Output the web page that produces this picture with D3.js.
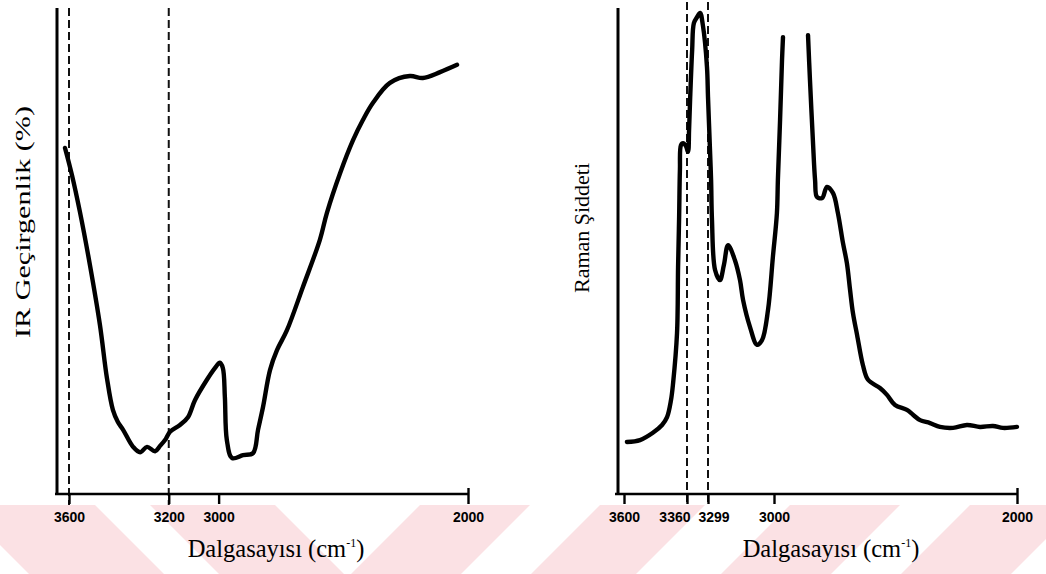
<!DOCTYPE html>
<html>
<head>
<meta charset="utf-8">
<script src="https://cdn.jsdelivr.net/npm/d3@7"></script>
<style>
  html, body { margin: 0; padding: 0; background: #ffffff; }
  svg { display: block; }
</style>
</head>
<body>
<svg id="chart" width="1046" height="574"></svg>
<script>
// IR transmittance spectrum (wavenumber, cm-1 / transmittance, arbitrary %)
const irWavenumber = [3616, 3588, 3556, 3516, 3476, 3448, 3424, 3404, 3383, 3343,
  3315, 3287, 3255, 3235, 3215, 3195, 3155, 3123, 3095, 3047,
  3015, 2995, 2983, 2975, 2967, 2946, 2902, 2862, 2842, 2822,
  2794, 2766, 2726, 2662, 2594, 2566, 2513, 2461, 2421, 2381,
  2313, 2233, 2181, 2112, 2044];
const irTransmittance = [71.2, 65.6, 58.0, 47.1, 34.8, 23.9, 17.3, 14.8, 13.2, 9.7,
  8.6, 9.7, 8.8, 9.9, 11.1, 12.8, 14.2, 15.8, 19.3, 23.5,
  25.9, 27.0, 25.9, 20.0, 11.1, 7.4, 8.0, 8.4, 13.2, 17.9,
  25.5, 29.6, 33.7, 42.6, 52.3, 57.8, 66.0, 72.8, 77.0, 80.5,
  84.6, 86.0, 85.6, 86.8, 88.3];

// Raman spectrum; null marks the off-scale part of the C-H band
const ramanWavenumber = [3589, 3539, 3490, 3455, 3436, 3421, 3413, 3398, 3394, 3390,
  3387, 3383, 3375, 3364, 3357, 3354, 3351, 3345, 3340, 3331,
  3322, 3314, 3302, 3299, 3290, 3285, 3281, 3267, 3245, 3227,
  3208, 3177, 3154, 3140, 3109, 3077, 3054, 3027, 3005, 2988,
  2984, 2975, 2967, 2963, 2914, 2860, 2852, 2840, 2831, 2823,
  2802, 2782, 2757, 2737, 2716, 2700, 2687, 2675, 2658, 2634,
  2613, 2564, 2535, 2502, 2453, 2428, 2399, 2358, 2317, 2263,
  2206, 2152, 2099, 2058, 2000];
const ramanIntensity = [10.7, 11.1, 12.6, 14.2, 15.8, 19.3, 22.8, 33.1, 46.7, 57.0,
  66.7, 71.8, 72.2, 71.6, 70.4, 74.9, 81.1, 91.4, 96.9, 98.1,
  99.0, 96.5, 87.9, 81.7, 70.8, 64.6, 56.4, 46.1, 44.0, 47.1,
  51.2, 48.1, 44.0, 39.9, 34.4, 30.7, 31.7, 37.9, 48.8, 57.8,
  64.6, 77.0, 89.3, 94.0, null, 94.4, 85.2, 72.8, 64.6, 61.1,
  60.9, 63.2, 61.9, 57.8, 51.6, 47.5, 42.0, 37.2, 32.7, 26.5,
  23.5, 21.8, 20.4, 18.3, 17.3, 16.3, 15.2, 14.6, 13.8, 13.6,
  14.2, 13.8, 14.0, 13.6, 13.8];

const irTicks = [3600, 3200, 3000, 2000];
const ramanTicks = [3600, 3360, 3299, 3000, 2000];
const irMarkers = [3600, 3200];
const ramanMarkers = [3360, 3299];

const irTitle = "IR Geçirgenlik (%)";
const ramanTitle = "Raman Şiddeti";
const xTitle = "Dalgasayısı (cm";

const svg = d3.select("#chart");

// pale diagonal background band along the bottom edge
const band = svg.append("g");
band.append("clipPath").attr("id", "bandClip")
  .append("rect").attr("x", 0).attr("y", 505).attr("width", 1046).attr("height", 69);
const bandG = band.append("g").attr("clip-path", "url(#bandClip)");
const stripes = [
  { a: -40, w: 135, dir: 1 }, { a: 150, w: 125, dir: 1 },
  { a: 420, w: 110, dir: -1 }, { a: 600, w: 105, dir: -1 },
  { a: 790, w: 110, dir: -1 }, { a: 970, w: 110, dir: -1 }
];
bandG.selectAll("path").data(stripes).join("path")
  .attr("d", s => {
    const sh = 69 * s.dir;
    return `M${s.a},505 L${s.a + s.w},505 L${s.a + s.w + sh},574 L${s.a + sh},574 Z`;
  })
  .attr("fill", "#fbe1e4");

const yScale = d3.scaleLinear().domain([0, 100]).range([494, 8]);

function drawPanel(opt) {
  const g = svg.append("g");
  const x = opt.x;

  const line = d3.line()
    .defined(d => d[1] !== null)
    .x(d => x(d[0]))
    .y(d => yScale(d[1]))
    .curve(d3.curveCatmullRom.alpha(0.5));
  const pts = opt.wn.map((w, i) => [w, opt.val[i]]);

  // reference wavenumber markers
  g.selectAll("line.marker").data(opt.markers).join("line")
    .attr("class", "marker")
    .attr("x1", d => x(d)).attr("x2", d => x(d))
    .attr("y1", opt.markerTop).attr("y2", opt.markerBottom)
    .attr("stroke", "#111").attr("stroke-width", 2)
    .attr("stroke-dasharray", "8,4");

  // spectrum
  g.append("path").datum(pts)
    .attr("d", line)
    .attr("fill", "none")
    .attr("stroke", "#000")
    .attr("stroke-width", 4.4)
    .attr("stroke-linejoin", "round")
    .attr("stroke-linecap", "round");

  // vertical axis (no ticks)
  g.append("line")
    .attr("x1", opt.yAxisX).attr("x2", opt.yAxisX)
    .attr("y1", yScale(100)).attr("y2", yScale(0) + 1)
    .attr("stroke", "#000").attr("stroke-width", 3);

  // horizontal axis
  const axis = d3.axisBottom(x).tickValues(opt.ticks).tickSize(10).tickPadding(8)
    .tickFormat(d3.format("d"));
  const ax = g.append("g").attr("transform", `translate(0,${yScale(0)})`).call(axis);
  ax.select(".domain").remove();
  ax.append("line")
    .attr("x1", opt.xAxisStart).attr("x2", x(2000))
    .attr("y1", 0).attr("y2", 0)
    .attr("stroke", "#000").attr("stroke-width", 2.6);
  ax.selectAll(".tick line").attr("stroke", "#000").attr("stroke-width", 2.4);
  ax.selectAll(".tick").filter(d => d === 2000).select("line").attr("y1", -6);
  ax.selectAll(".tick text")
    .attr("fill", "#000")
    .style("font-family", "'Liberation Sans', Arial, sans-serif")
    .style("font-weight", "bold")
    .style("font-size", "14px")
    .each(function (d) {
      const off = opt.labelShift[d];
      if (off) d3.select(this).attr("text-anchor", off.anchor).attr("dx", off.dx);
    });

  // axis titles
  const t = g.append("text")
    .attr("x", opt.titleX).attr("y", 557)
    .attr("text-anchor", "middle")
    .style("font-family", "'Liberation Serif', 'Times New Roman', serif")
    .style("font-size", "24.5px")
    .attr("fill", "#000");
  t.append("tspan").text(xTitle);
  t.append("tspan").attr("dy", -10).style("font-size", "12px").text("-1");
  t.append("tspan").attr("dy", 10).text(")");

  g.append("text")
    .attr("transform", `translate(${opt.yTitleX},${opt.yTitleY}) rotate(-90)`)
    .attr("text-anchor", "middle")
    .attr("textLength", opt.yTitleLen)
    .attr("lengthAdjust", "spacingAndGlyphs")
    .style("font-family", "'Liberation Serif', 'Times New Roman', serif")
    .style("font-size", opt.yTitleSize)
    .attr("fill", "#000")
    .text(opt.yTitle);
}

drawPanel({
  x: d3.scaleLinear().domain([3600, 2000]).range([69, 468]),
  wn: irWavenumber, val: irTransmittance,
  ticks: irTicks, markers: irMarkers,
  markerTop: 8, markerBottom: 505,
  yAxisX: 57, xAxisStart: 55,
  labelShift: {},
  titleX: 276, yTitleX: 30, yTitleY: 222, yTitleLen: 232, yTitleSize: "21px", yTitle: irTitle
});

// the printed Raman axis is not evenly spaced, so its scale is piecewise linear
drawPanel({
  x: d3.scaleLinear().domain([3600, 3360, 3299, 3000, 2000]).range([624, 687, 708, 774, 1017]),
  wn: ramanWavenumber, val: ramanIntensity,
  ticks: ramanTicks, markers: ramanMarkers,
  markerTop: 2, markerBottom: 502,
  yAxisX: 618, xAxisStart: 615,
  labelShift: { 3360: { anchor: "end", dx: 3 }, 3299: { anchor: "start", dx: -10 } },
  titleX: 831, yTitleX: 589, yTitleY: 228, yTitleLen: 130, yTitleSize: "22px", yTitle: ramanTitle
});
</script>
</body>
</html>
